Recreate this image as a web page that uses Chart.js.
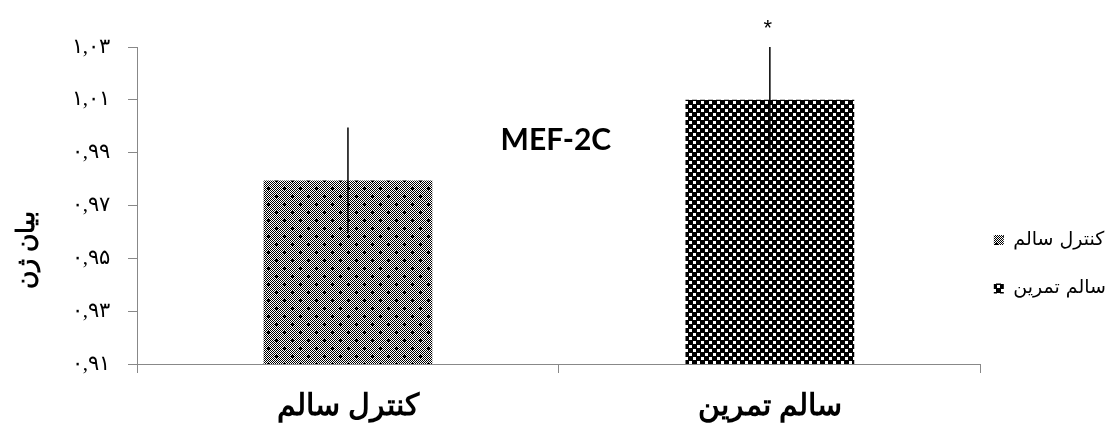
<!DOCTYPE html>
<html>
<head>
<meta charset="utf-8">
<script src="https://cdn.jsdelivr.net/npm/chart.js@4.4.1/dist/chart.umd.min.js"></script>
<style>
html, body { margin: 0; padding: 0; background: #fff; }
#wrap { width: 1116px; height: 432px; }
</style>
</head>
<body>
<div id="wrap"><canvas id="geneChart"></canvas></div>
<script>
// data
const groups = ['کنترل سالم', 'سالم تمرین'];
const means = [0.9795, 1.01];
const errors = [0.02, 0.02];
const marks = ['', '*'];
const yTicks = [0.91, 0.93, 0.95, 0.97, 0.99, 1.01, 1.03];
const yTickLabels = ['۰,۹۱', '۰,۹۳', '۰,۹۵', '۰,۹۷', '۰,۹۹', '۱,۰۱', '۱,۰۳'];
const chartTitle = 'MEF-2C';
const yTitle = 'بیان ژن';

const canvas = document.getElementById('geneChart');
const ctx = canvas.getContext('2d');

// small dotted checker fill (first bar)
function checkerFill() {
    const c = document.createElement('canvas');
    c.width = 16; c.height = 16;
    const g = c.getContext('2d');
    g.fillStyle = '#fff';
    g.fillRect(0, 0, 16, 16);
    g.fillStyle = '#000';
    for (let y = 0; y < 16; y++) {
        for (let x = 0; x < 16; x++) {
            if ((x + y) % 2 == 0) g.fillRect(x, y, 1, 1);
        }
    }
    [[4, 4], [12, 12]].forEach(function(p) {
        g.fillRect(p[0] - 1, p[1] - 1, 3, 3);
        g.fillRect(p[0] - 2, p[1], 5, 1);
        g.fillRect(p[0], p[1] - 2, 1, 5);
    });
    return ctx.createPattern(c, 'repeat');
}

// black with white squares (second bar)
function confettiFill() {
    const c = document.createElement('canvas');
    c.width = 8; c.height = 8;
    const g = c.getContext('2d');
    g.fillStyle = '#000';
    g.fillRect(0, 0, 8, 8);
    g.fillStyle = '#fff';
    g.fillRect(1, 1, 3, 3);
    g.fillRect(5, 5, 3, 3);
    return ctx.createPattern(c, 'repeat');
}

const fills = [checkerFill(), confettiFill()];

const extras = {
    id: 'extras',
    afterDatasetsDraw(chart) {
        const c = chart.ctx;
        const x = chart.scales.x;
        const y = chart.scales.y;
        const area = chart.chartArea;
        c.save();
        // error bars
        c.strokeStyle = '#000';
        c.lineWidth = 1.5;
        means.forEach(function(m, i) {
            const px = x.getPixelForValue(i);
            c.beginPath();
            c.moveTo(px, y.getPixelForValue(m + errors[i]));
            c.lineTo(px, y.getPixelForValue(m - errors[i]));
            c.stroke();
            if (marks[i]) {
                c.fillStyle = '#000';
                c.font = '22px "Liberation Sans", Arial, sans-serif';
                c.textAlign = 'center';
                c.textBaseline = 'alphabetic';
                c.fillText(marks[i], px - 2, y.getPixelForValue(m + errors[i]) - 12);
            }
        });
        // chart title inside the plot
        c.fillStyle = '#000';
        c.font = 'bold 30px Lato, "Open Sans", sans-serif';
        c.textAlign = 'center';
        c.textBaseline = 'middle';
        c.fillText(chartTitle, (area.left + area.right) / 2 - 3, area.top + 93);
        // y axis title
        c.translate(28, 250);
        c.rotate(-Math.PI / 2);
        c.font = 'bold 25px "Liberation Serif", "DejaVu Serif", serif';
        c.fillText(yTitle, 0, 0);
        c.restore();
    }
};

new Chart(canvas, {
    type: 'bar',
    data: {
        labels: groups,
        datasets: groups.map(function(g, i) {
            return {
                label: g,
                data: groups.map((_, j) => j == i ? means[i] : null),
                backgroundColor: fills[i],
                borderWidth: 0,
                barPercentage: 0.4,
                categoryPercentage: 1.0,
                skipNull: true
            };
        })
    },
    options: {
        responsive: true,
        maintainAspectRatio: false,
        animation: false,
        layout: { padding: { top: 47, right: 0, left: 0, bottom: 0 } },
        plugins: {
            tooltip: { enabled: false },
            legend: {
                position: 'right',
                align: 'start',
                title: { display: true, text: '', padding: { top: 168, bottom: 0 } },
                labels: {
                    boxWidth: 10,
                    boxHeight: 10,
                    padding: 1,
                    color: '#000',
                    font: { size: 19, lineHeight: 2.5, family: '"DejaVu Sans", Arial, sans-serif' },
                    // one-line arrays so the row height follows lineHeight
                    generateLabels(chart) {
                        return Chart.defaults.plugins.legend.labels.generateLabels(chart).map(function(item) {
                            item.text = [item.text];
                            item.lineWidth = 0;
                            return item;
                        });
                    }
                }
            }
        },
        scales: {
            x: {
                grid: { display: true, drawOnChartArea: false, offset: true, tickLength: 9, color: '#888' },
                border: { color: '#888', width: 1 },
                ticks: {
                    color: '#000',
                    padding: 16,
                    font: { size: 30, weight: 'bold', family: '"Liberation Serif", "DejaVu Serif", serif' }
                },
                afterFit(s) { s.height = 68; }
            },
            y: {
                min: 0.91,
                max: 1.03,
                grid: { display: true, drawOnChartArea: false, tickLength: 9, color: '#888' },
                border: { color: '#888', width: 1 },
                ticks: {
                    stepSize: 0.02,
                    padding: 18,
                    color: '#000',
                    font: { size: 21, family: '"Liberation Serif", "DejaVu Serif", serif' },
                    callback: function(v) {
                        const k = yTicks.findIndex(t => Math.abs(t - v) < 1e-6);
                        return k >= 0 ? yTickLabels[k] : '';
                    }
                },
                afterFit(s) { s.width = 137; }
            },
            // empty spacer between plot and legend
            gap: {
                type: 'linear',
                position: 'right',
                display: true,
                grid: { display: false },
                border: { display: false },
                ticks: { display: false },
                afterFit(s) { s.width = 12; }
            }
        }
    },
    plugins: [extras]
});
</script>
</body>
</html>
